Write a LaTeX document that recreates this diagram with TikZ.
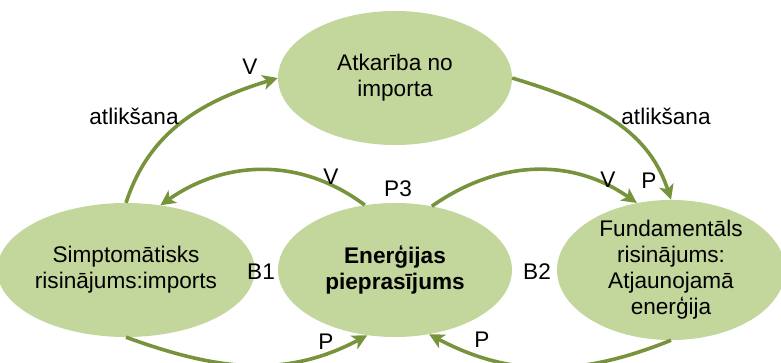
\documentclass[tikz,border=0pt]{standalone}
\usepackage{fontspec}
\setmainfont{Liberation Sans}
\usetikzlibrary{shapes.geometric,arrows.meta}
\definecolor{ellfill}{HTML}{C3D69B}
\definecolor{arrc}{HTML}{77933C}
\tikzset{
  ell/.style={ellipse, fill=ellfill, draw=none, inner sep=0pt, minimum width=234pt, minimum height=134pt, align=center, font=\fontsize{22.6}{26}\selectfont},
  conn/.style={draw=arrc, line width=3.6pt, -{Stealth[length=15pt,width=15pt,inset=4pt]}},
  lab/.style={inner sep=0pt, font=\fontsize{22.6}{26}\selectfont}
}
\begin{document}
\begin{tikzpicture}[x=1pt,y=1pt]
\useasboundingbox (0,0) rectangle (781,362);
\begin{scope}
\clip (0,0) rectangle (781,362);
\node[ell] (T) at (395,284) {Atkarība no\\importa};
\node[ell] (L) at (126,92) {Simptomātisks\\risinājums:imports};
\node[ell] (M) at (395,92) {\textbf{Enerģijas}\\\textbf{pieprasījums}};
\node[ell, minimum width=228pt] (R) at (671,92) {Fundamentāls\\risinājums:\\Atjaunojamā\\enerģija};
\end{scope}

\draw[conn] (L.north) to[out=72, in=197] (T.west);
\draw[conn] (T.east) to[out=-17, in=108] (R.north);
\draw[conn] (M.115) to[out=143, in=35] (L.62);
\draw[conn] (M.60) to[out=35, in=145] (R.117);
\draw[conn] (L.south) to[out=-20, in=-152] (M.-113);
\draw[conn] (R.south) to[out=-158, in=-28] (M.-62);

\node[lab] (v1) at (250,295) {V};
\node[lab] (a1) at (134,246) {atlikšana};
\node[lab] (a2) at (666,246) {atlikšana};
\node[lab] (v2) at (331,185) {V};
\node[lab] (p3) at (398,173) {P3};
\node[lab] (v3) at (608,182) {V};
\node[lab] (p1) at (649,181) {P};
\node[lab] (b1) at (261,90) {B1};
\node[lab] (b2) at (537,90) {B2};
\node[lab] (p2) at (326,20) {P};
\node[lab] (p4) at (482,22) {P};
\end{tikzpicture}
\end{document}
